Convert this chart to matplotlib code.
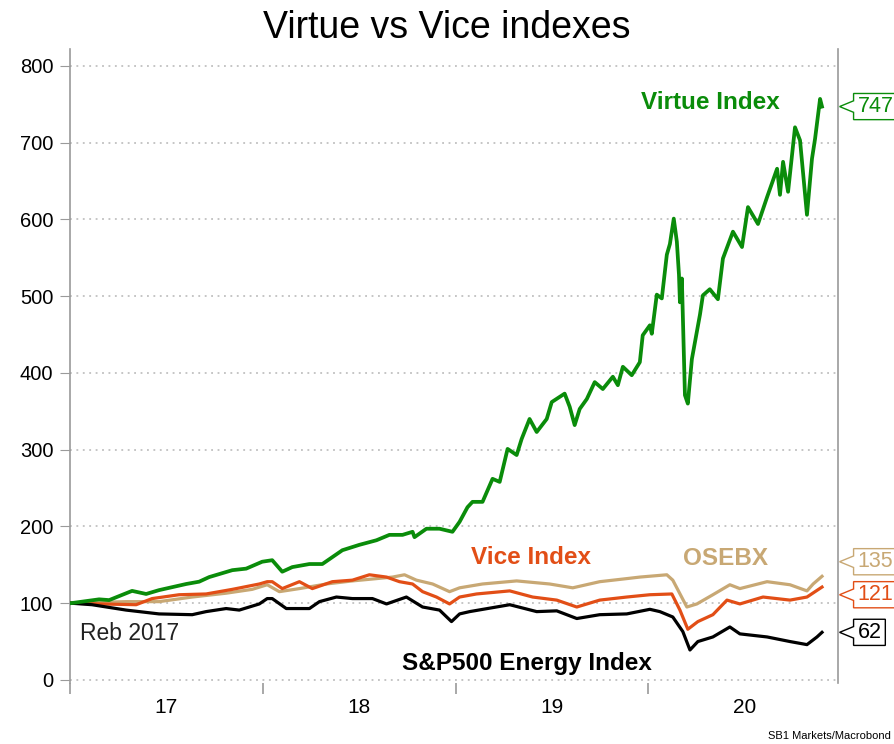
import matplotlib
matplotlib.use("Agg")
import matplotlib.pyplot as plt
from matplotlib.path import Path
from matplotlib.ticker import FixedLocator, NullFormatter, FixedFormatter

# Data: decimal year, index level (rebased to 100 in 2017)
virtue_t = [2017.005, 2017.151, 2017.203, 2017.322, 2017.395, 2017.462, 2017.603, 2017.670,
            2017.722, 2017.842, 2017.914, 2017.997, 2018.049, 2018.101, 2018.153, 2018.242,
            2018.309, 2018.413, 2018.501, 2018.590, 2018.657, 2018.725, 2018.777, 2018.787,
            2018.849, 2018.917, 2018.984, 2019.021, 2019.062, 2019.088, 2019.140, 2019.192,
            2019.229, 2019.270, 2019.317, 2019.343, 2019.384, 2019.421, 2019.473, 2019.499,
            2019.566, 2019.592, 2019.618, 2019.644, 2019.681, 2019.722, 2019.764, 2019.816,
            2019.842, 2019.868, 2019.914, 2019.956, 2019.971, 2020.008, 2020.018, 2020.044,
            2020.070, 2020.096, 2020.112, 2020.132, 2020.148, 2020.159, 2020.164, 2020.174,
            2020.190, 2020.205, 2020.226, 2020.268, 2020.283, 2020.319, 2020.361, 2020.387,
            2020.439, 2020.486, 2020.517, 2020.569, 2020.616, 2020.668, 2020.683, 2020.699,
            2020.725, 2020.761, 2020.787, 2020.823, 2020.849, 2020.865, 2020.891, 2020.901]
virtue = [100, 105, 104, 116, 112, 117, 125, 128,
          134, 143, 145, 154, 156, 141, 147, 151,
          151, 169, 176, 182, 189, 189, 193, 186,
          197, 197, 193, 206, 225, 232, 232, 262,
          258, 301, 293, 314, 340, 323, 340, 362,
          373, 356, 332, 353, 366, 388, 379, 395,
          384, 408, 397, 414, 449, 462, 451, 502,
          497, 554, 568, 601, 571, 528, 492, 523,
          371, 360, 418, 476, 501, 509, 496, 549,
          584, 564, 616, 594, 629, 666, 632, 675,
          636, 720, 703, 606, 679, 705, 757, 747]

vice_t = [2017.005, 2017.150, 2017.343, 2017.426, 2017.566, 2017.706, 2017.842, 2017.982,
          2018.023, 2018.049, 2018.101, 2018.190, 2018.257, 2018.361, 2018.465, 2018.553,
          2018.642, 2018.709, 2018.777, 2018.829, 2018.901, 2018.969, 2019.021, 2019.109,
          2019.281, 2019.400, 2019.525, 2019.629, 2019.748, 2019.888, 2020.008, 2020.122,
          2020.164, 2020.205, 2020.257, 2020.335, 2020.408, 2020.475, 2020.595, 2020.735,
          2020.823, 2020.901]
vice = [100, 99, 98, 106, 111, 112, 118, 125,
        128, 128, 119, 128, 119, 128, 130, 137,
        134, 128, 125, 115, 108, 99, 108, 112,
        116, 108, 104, 95, 104, 108, 111, 112,
        91, 66, 76, 85, 104, 99, 108, 104,
        108, 121]

osebx_t = [2017.005, 2017.291, 2017.462, 2017.634, 2017.810, 2017.945, 2018.023, 2018.086,
           2018.190, 2018.330, 2018.465, 2018.590, 2018.673, 2018.735, 2018.797, 2018.881,
           2018.969, 2019.021, 2019.140, 2019.317, 2019.488, 2019.608, 2019.748, 2019.888,
           2019.956, 2020.096, 2020.127, 2020.200, 2020.252, 2020.335, 2020.423, 2020.475,
           2020.616, 2020.735, 2020.823, 2020.855, 2020.901]
osebx = [100, 102, 102, 108, 113, 118, 124, 115,
         119, 125, 129, 132, 134, 137, 130, 125,
         115, 120, 125, 129, 125, 120, 128, 132,
         134, 137, 130, 95, 99, 111, 124, 119,
         128, 124, 116, 125, 135]

energy_t = [2017.005, 2017.114, 2017.291, 2017.462, 2017.634, 2017.706, 2017.810, 2017.878,
            2017.982, 2018.023, 2018.049, 2018.122, 2018.242, 2018.294, 2018.382, 2018.465,
            2018.569, 2018.642, 2018.745, 2018.829, 2018.917, 2018.979, 2019.021, 2019.073,
            2019.281, 2019.421, 2019.525, 2019.629, 2019.748, 2019.888, 2020.008, 2020.060,
            2020.127, 2020.179, 2020.216, 2020.257, 2020.335, 2020.423, 2020.475, 2020.616,
            2020.735, 2020.823, 2020.875, 2020.901]
energy = [100, 98, 91, 86, 85, 89, 93, 91,
          99, 106, 106, 93, 93, 102, 108, 106,
          106, 99, 108, 95, 91, 76, 86, 89,
          98, 89, 90, 80, 85, 86, 92, 89,
          82, 63, 39, 50, 56, 69, 60, 56,
          50, 46, 56, 62]

year_edges = [2017, 2018, 2019, 2020, 2021]
year_mids = [2017.5, 2018.5, 2019.5, 2020.5]
year_labels = ["17", "18", "19", "20"]
y_ticks = [0, 100, 200, 300, 400, 500, 600, 700, 800]

GREEN = "#0a8c0a"
ORANGE = "#e24e16"
TAN = "#c8a874"
BLACK = "#000000"
GRAY = "#9a9a9a"

plt.rcParams["font.family"] = ["Liberation Sans", "DejaVu Sans"]


def callout_box(x0, y0, width, height, mutation_size):
    """Box with a small triangle pointing left (Macrobond style value tag)."""
    padx = 0.18 * mutation_size
    pady = 0.12 * mutation_size
    arrow = 0.65 * mutation_size
    x0 -= padx
    y0 -= pady
    width += 2 * padx
    height += 2 * pady
    ym = y0 + height / 2
    verts = [(x0, y0), (x0 + width, y0), (x0 + width, y0 + height), (x0, y0 + height),
             (x0, ym + 0.22 * height), (x0 - arrow, ym), (x0, ym - 0.22 * height), (x0, y0)]
    return Path(verts, closed=True)


fig = plt.figure(figsize=(8.94, 7.44), dpi=100)
ax = fig.add_axes([70 / 894, 1 - 683 / 744, (838 - 70) / 894, (683 - 49) / 744])

ax.plot(osebx_t, osebx, color=TAN, lw=2.3, zorder=3)
ax.plot(vice_t, vice, color=ORANGE, lw=2.3, zorder=4)
ax.plot(energy_t, energy, color=BLACK, lw=2.3, zorder=5)
ax.plot(virtue_t, virtue, color=GREEN, lw=2.7, zorder=6)

ax.set_xlim(2017.0, 2020.984)
ax.set_ylim(-4, 822)

# y axis
ax.set_yticks(y_ticks)
ax.yaxis.grid(True, color="#b5b5b5", linestyle=(0, (1.2, 3)), lw=1.1)
ax.tick_params(axis="y", direction="out", length=7, color=GRAY, labelsize=14.5, pad=5)

# x axis: ticks at year boundaries, labels in the middle of each year
ax.xaxis.set_major_locator(FixedLocator(year_edges))
ax.xaxis.set_major_formatter(NullFormatter())
ax.xaxis.set_minor_locator(FixedLocator(year_mids))
ax.xaxis.set_minor_formatter(FixedFormatter(year_labels))
ax.tick_params(axis="x", which="major", direction="out", length=8, color=GRAY, width=1.2)
ax.tick_params(axis="x", which="minor", length=0, labelsize=15, pad=11)

for side in ["top", "bottom"]:
    ax.spines[side].set_visible(False)
for side in ["left", "right"]:
    ax.spines[side].set_color(GRAY)
    ax.spines[side].set_linewidth(1.2)

# series names inside the plot
ax.text(2020.32, 752, "Virtue Index", color=GREEN, fontsize=17.5, fontweight="bold",
        ha="center", va="center")
ax.text(2019.39, 159, "Vice Index", color=ORANGE, fontsize=17.5, fontweight="bold",
        ha="center", va="center")
ax.text(2020.40, 158, "OSEBX", color=TAN, fontsize=17.5, fontweight="bold",
        ha="center", va="center")
ax.text(2019.37, 22, "S&P500 Energy Index", color=BLACK, fontsize=17.5, fontweight="bold",
        ha="center", va="center")
ax.text(2017.05, 60, "Reb 2017", color="#222222", fontsize=16.5, ha="left", va="center")

# last-value tags on the right, nudged apart where they would collide
tags = [(virtue[-1], GREEN, 0), (osebx[-1], TAN, 19), (vice[-1], ORANGE, -10),
        (energy[-1], BLACK, 0)]
for val, col, nudge in tags:
    ax.annotate(f"{val:.0f}", xy=(1.0, val + nudge), xycoords=ax.get_yaxis_transform(),
                xytext=(14, 0), textcoords="offset points", ha="left", va="center",
                fontsize=15.5, color=col, annotation_clip=False,
                bbox=dict(boxstyle=callout_box, fc="white", ec=col, lw=1.0))

fig.text(0.5, 0.963, "Virtue vs Vice indexes", fontsize=27, ha="center", va="center")
fig.text(0.997, 0.004, "SB1 Markets/Macrobond", fontsize=8, ha="right", va="bottom")

fig.savefig("out.png", dpi=100)
